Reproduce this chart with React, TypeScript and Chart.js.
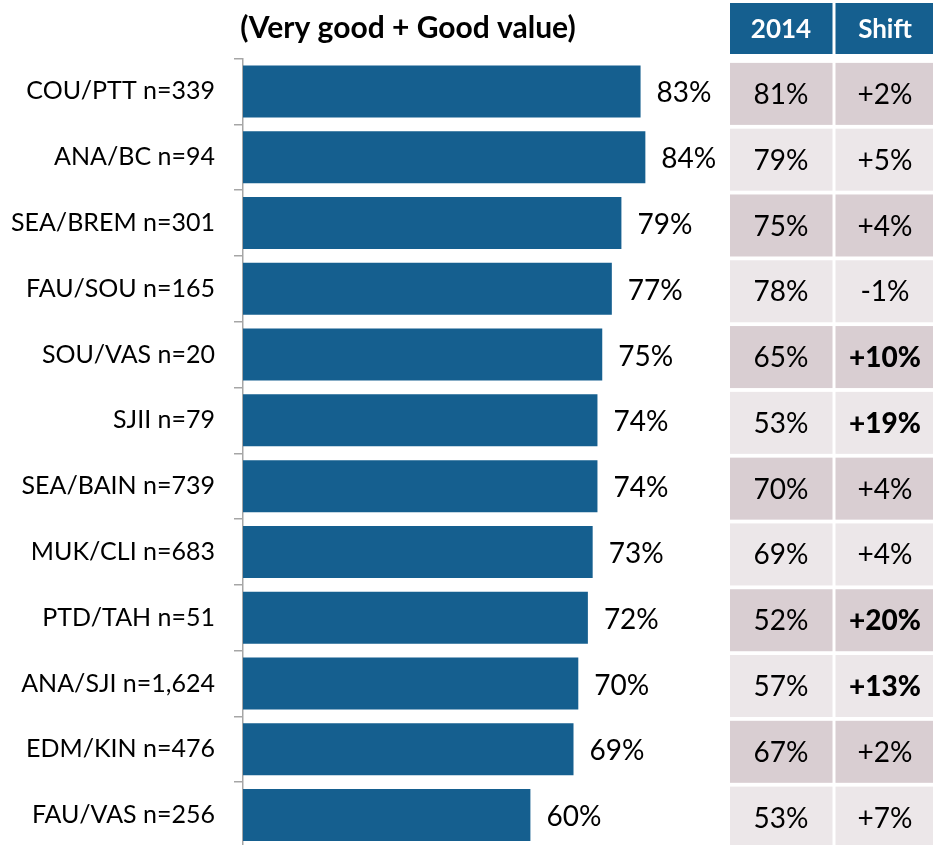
import React, { useEffect, useRef } from "react";
import { Chart, registerables } from "chart.js";

Chart.register(...registerables);

const categories = [
  "COU/PTT n=339",
  "ANA/BC n=94",
  "SEA/BREM n=301",
  "FAU/SOU n=165",
  "SOU/VAS n=20",
  "SJII n=79",
  "SEA/BAIN n=739",
  "MUK/CLI n=683",
  "PTD/TAH n=51",
  "ANA/SJI n=1,624",
  "EDM/KIN n=476",
  "FAU/VAS n=256",
];
const values2016 = [83, 84, 79, 77, 75, 74, 74, 73, 72, 70, 69, 60];
const values2014 = [81, 79, 75, 78, 65, 53, 70, 69, 52, 57, 67, 53];
const shifts = [2, 5, 4, -1, 10, 19, 4, 4, 20, 13, 2, 7];
const shiftBold = [false, false, false, false, true, true, false, false, true, true, false, false];
const tableHeaders = ["2014", "Shift"];
const titleText = "(Very good + Good value)";

const FONT = "Lato, 'Open Sans', sans-serif";
const BAR = "#155F8F";
const HEADER = "#155F8F";
const ROW_DARK = "#D9CED2";
const ROW_LIGHT = "#ECE7E9";

export default function App() {
  const ref = useRef<HTMLCanvasElement | null>(null);

  useEffect(() => {
    if (!ref.current) return;

    const labelPlugin = {
      id: "valueLabels",
      afterDatasetsDraw(chart: any) {
        const ctx = chart.ctx;
        const meta = chart.getDatasetMeta(0);
        ctx.save();
        ctx.font = `28px ${FONT}`;
        ctx.fillStyle = "#000";
        ctx.textAlign = "left";
        ctx.textBaseline = "middle";
        meta.data.forEach((bar: any, i: number) => {
          ctx.fillText(`${values2016[i]}%`, bar.x + 16, bar.y + 2);
        });
        ctx.restore();
      },
    };

    const tablePlugin = {
      id: "sideTable",
      afterDraw(chart: any) {
        const ctx = chart.ctx;
        const y = chart.scales.y;
        const cols = [
          { x0: 730, x1: 832.5 },
          { x0: 835.5, x1: 940 },
        ];
        const cx = [781, 885];
        ctx.save();
        // header
        cols.forEach((c, j) => {
          ctx.fillStyle = HEADER;
          ctx.fillRect(c.x0, 3, c.x1 - c.x0, 51);
          ctx.fillStyle = "#fff";
          ctx.font = `bold 26px ${FONT}`;
          ctx.textAlign = "center";
          ctx.textBaseline = "middle";
          ctx.fillText(tableHeaders[j], cx[j], 30);
        });
        // rows
        categories.forEach((_, i) => {
          const c = y.getPixelForValue(i);
          const top = c - 28.5;
          const h = 62;
          const fill = i % 2 === 0 ? ROW_DARK : ROW_LIGHT;
          cols.forEach((col) => {
            ctx.fillStyle = fill;
            ctx.fillRect(col.x0, top, col.x1 - col.x0, h);
          });
          ctx.fillStyle = "#000";
          ctx.textAlign = "center";
          ctx.textBaseline = "middle";
          ctx.font = `28px ${FONT}`;
          ctx.fillText(`${values2014[i]}%`, cx[0], top + h / 2 + 1);
          const s = shifts[i];
          ctx.font = `${shiftBold[i] ? "900 " : ""}28px ${FONT}`;
          ctx.fillText(`${s > 0 ? "+" : ""}${s}%`, cx[1], top + h / 2 + 1);
        });
        // title
        ctx.fillStyle = "#000";
        ctx.font = `bold 30px ${FONT}`;
        ctx.textAlign = "center";
        ctx.textBaseline = "middle";
        ctx.fillText(titleText, 408, 28);
        ctx.restore();
      },
    };

    const chart = new Chart(ref.current, {
      type: "bar",
      data: {
        labels: categories,
        datasets: [
          {
            data: values2016,
            backgroundColor: BAR,
            borderWidth: 0,
            barPercentage: 0.79,
            categoryPercentage: 1,
          },
        ],
      },
      options: {
        indexAxis: "y",
        responsive: false,
        animation: false,
        devicePixelRatio: 1,
        layout: { padding: { top: 58.5, right: 211, bottom: 0, left: 0 } },
        plugins: {
          legend: { display: false },
          title: { display: false },
          tooltip: { enabled: false },
        },
        scales: {
          x: { display: false, min: 0, max: 100 },
          y: {
            position: "left",
            afterFit(scale: any) {
              scale.width = 243;
              scale.paddingTop = 0;
              scale.paddingBottom = 0;
            },
            grid: {
              display: true,
              drawOnChartArea: false,
              drawTicks: true,
              tickLength: 9,
              offset: true,
              color: "#A6A6A6",
              lineWidth: 1.5,
            },
            border: { display: true, color: "#A6A6A6", width: 1.5 },
            ticks: {
              color: "#000",
              padding: 19,
              font: { family: FONT, size: 25 },
            },
          },
        },
      },
      plugins: [labelPlugin, tablePlugin],
    });
    return () => chart.destroy();
  }, []);

  return (
    <div
      style={{
        position: "absolute",
        left: 0,
        top: 0,
        width: 933,
        height: 845,
        overflow: "hidden",
        background: "#fff",
      }}
    >
      <canvas ref={ref} width={933} height={848} style={{ display: "block" }} />
    </div>
  );
}
